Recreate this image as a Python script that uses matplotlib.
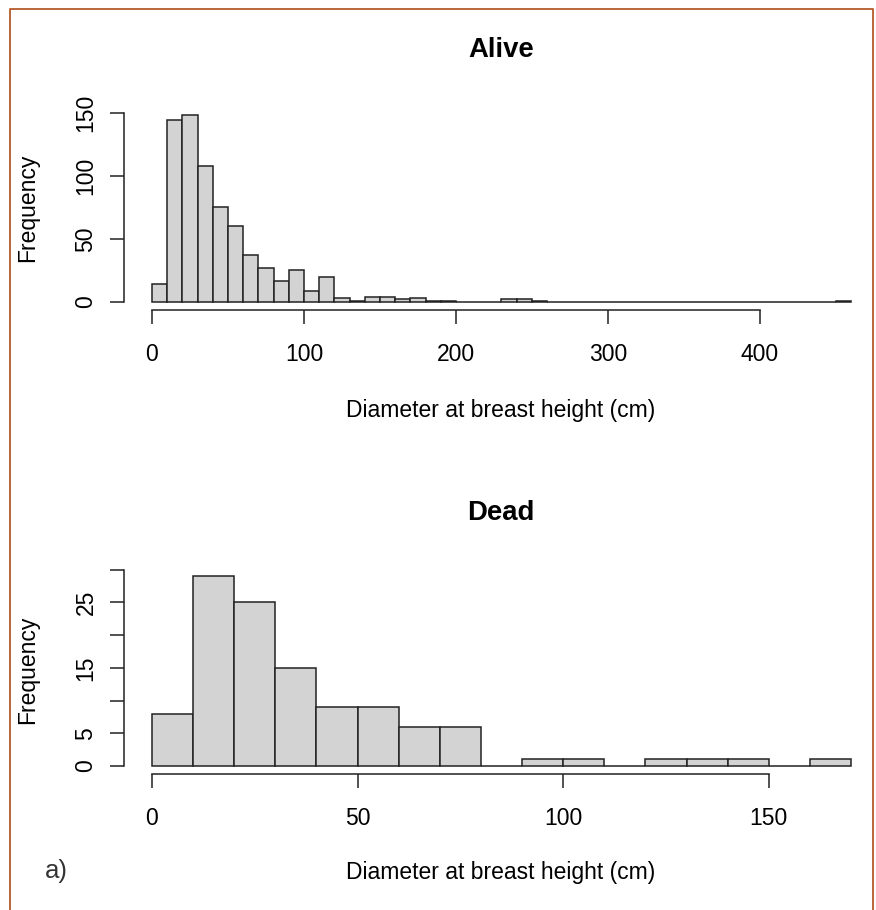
import numpy as np
import matplotlib
matplotlib.use("Agg")
import matplotlib.pyplot as plt
from matplotlib.lines import Line2D

plt.rcParams['font.family'] = ['Liberation Sans', 'DejaVu Sans']

# histogram counts, 10 cm bins starting at 0
alive_counts = [14, 144, 148, 108, 75, 60, 37, 27, 17, 25, 9, 20,
                3, 1, 4, 4, 2, 3, 1, 1, 0, 0, 0, 2, 2, 1,
                0, 0, 0, 0, 0, 0, 0, 0, 0, 0, 0, 0, 0, 0, 0, 0, 0, 0, 0, 1]
dead_counts = [8, 29, 25, 15, 9, 9, 6, 6, 0, 1, 1, 0, 1, 1, 1, 0, 1]
bin_width = 10

alive_xticks = [0, 100, 200, 300, 400]
alive_yticks = [0, 50, 100, 150]
dead_xticks = [0, 50, 100, 150]
dead_yticks = [0, 5, 10, 15, 20, 25, 30]
dead_ylabels = ['0', '5', '', '15', '', '25', '']

W, H = 876, 910
DPI = 100
fig = plt.figure(figsize=(W / DPI, H / DPI), dpi=DPI)

FS = 16.5
TICKLEN = 14 * 72 / DPI


def px_axes(left, top, right, bottom):
    return fig.add_axes([left / W, 1 - bottom / H, (right - left) / W, (bottom - top) / H])


def draw_hist(ax, counts, xticks, yticks, ylabels=None):
    edges = np.arange(len(counts)) * bin_width
    ax.bar(edges, counts, width=bin_width, align='edge', color='#d3d3d3',
           edgecolor='#222222', linewidth=1.1)
    n = len(counts) * bin_width
    ax.set_xlim(-0.04 * n, n * 1.04)
    top = max(counts)
    ax.set_ylim(-0.04 * top, top * 1.04)
    for s in ['top', 'right']:
        ax.spines[s].set_visible(False)
    ax.spines['left'].set_bounds(yticks[0], yticks[-1])
    ax.spines['bottom'].set_bounds(xticks[0], xticks[-1])
    for s in ['left', 'bottom']:
        ax.spines[s].set_linewidth(1.1)
        ax.spines[s].set_color('#222222')
    ax.set_xticks(xticks)
    ax.set_yticks(yticks)
    ax.set_xticklabels([str(t) for t in xticks], fontsize=FS)
    ax.set_yticklabels(ylabels if ylabels else [str(t) for t in yticks],
                       fontsize=FS, rotation=90, va='center')
    ax.tick_params(length=TICKLEN, width=1.1, color='#222222')
    ax.tick_params(axis='x', pad=14)
    ax.tick_params(axis='y', pad=9)
    ax.patch.set_alpha(0)


ax1 = px_axes(124, 107.6, 879, 309.5)
draw_hist(ax1, alive_counts, alive_xticks, alive_yticks)
ax2 = px_axes(124, 568.5, 879, 773.6)
draw_hist(ax2, dead_counts, dead_xticks, dead_yticks, dead_ylabels)


def ftext(x, y, s, **kw):
    fig.text(x / W, 1 - y / H, s, ha='center', va='center', **kw)


ftext(501, 50, 'Alive', fontsize=FS * 1.2, fontweight='bold')
ftext(501, 513, 'Dead', fontsize=FS * 1.2, fontweight='bold')
ftext(501, 411, 'Diameter at breast height (cm)', fontsize=FS)
ftext(501, 873, 'Diameter at breast height (cm)', fontsize=FS)
ftext(28, 208, 'Frequency', fontsize=FS, rotation=90)
ftext(28, 670, 'Frequency', fontsize=FS, rotation=90)
ftext(56, 871, 'a)', fontsize=FS + 2, color='#333333')

# frame around the panel (open at the bottom)
frame_col = '#b65a2a'
fig.add_artist(Line2D([10 / W, 10 / W, 873 / W, 873 / W],
                      [0, 1 - 9 / H, 1 - 9 / H, 0],
                      color=frame_col, linewidth=1.3))

fig.savefig('out.png', dpi=DPI)
